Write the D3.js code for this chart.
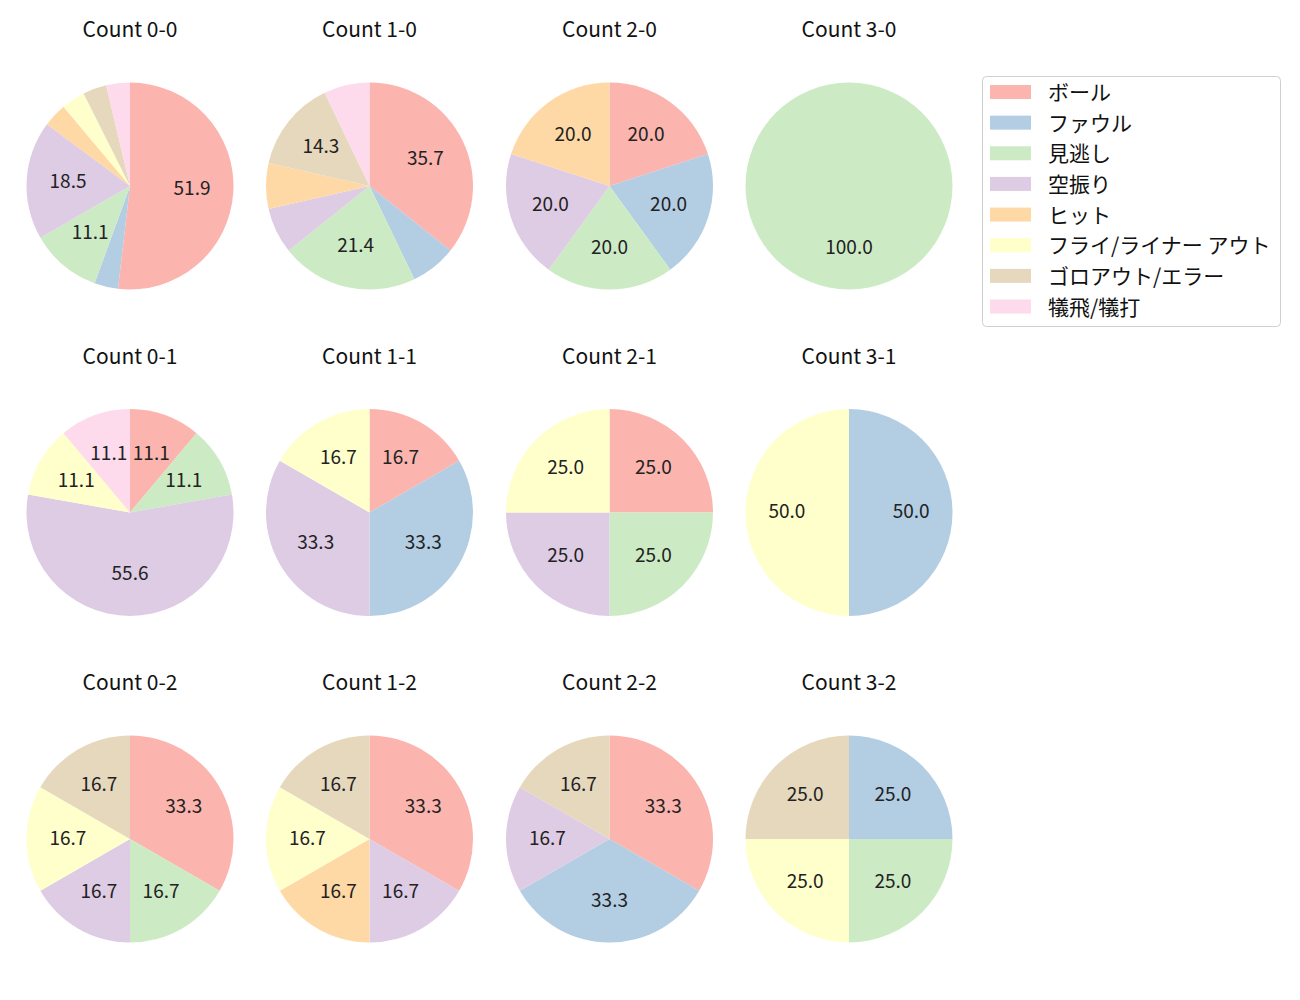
<!DOCTYPE html>
<html><head><meta charset="utf-8">
<script src="https://cdn.jsdelivr.net/npm/d3@7"></script>
<style>body{margin:0;background:#fff;} text{font-family:"Noto Sans CJK JP","Noto Sans",sans-serif;}</style>
</head><body>
<svg id="c" width="1300" height="1000"></svg>
<script>
const categories = ["ボール","ファウル","見逃し","空振り","ヒット","フライ/ライナー アウト","ゴロアウト/エラー","犠飛/犠打"];
const colors = ["#fbb4ae","#b3cde3","#ccebc5","#decbe4","#fed9a6","#ffffcc","#e5d8bd","#fddaec"];
const titles = ["Count 0-0","Count 1-0","Count 2-0","Count 3-0",
                "Count 0-1","Count 1-1","Count 2-1","Count 3-1",
                "Count 0-2","Count 1-2","Count 2-2","Count 3-2"];
const counts00 = [14,1,3,5,1,1,1,1];
const counts10 = [5,1,3,1,1,0,2,1];
const counts20 = [1,1,1,1,1,0,0,0];
const counts30 = [0,0,1,0,0,0,0,0];
const counts01 = [1,0,1,5,0,1,0,1];
const counts11 = [1,2,0,2,0,1,0,0];
const counts21 = [1,0,1,1,0,1,0,0];
const counts31 = [0,1,0,0,0,1,0,0];
const counts02 = [2,0,1,1,0,1,1,0];
const counts12 = [2,0,0,1,1,1,1,0];
const counts22 = [2,2,0,1,0,0,1,0];
const counts32 = [0,1,1,0,0,1,1,0];
const allCounts = [counts00,counts10,counts20,counts30,counts01,counts11,counts21,counts31,counts02,counts12,counts22,counts32];

const svg = d3.select("#c");
const colX = d3.scaleOrdinal().domain([0,1,2,3]).range([130,369.5,609.5,849]);
const rowY = d3.scaleOrdinal().domain([0,1,2]).range([186,512.5,839]);
const R = 103.5;
const color = d3.scaleOrdinal().domain(categories).range(colors);
const pie = d3.pie().sort(null).startAngle(0).endAngle(2*Math.PI).value(d=>d.v);
const arc = d3.arc().innerRadius(0).outerRadius(R);
const labelArc = d3.arc().innerRadius(R*0.6).outerRadius(R*0.6);

allCounts.forEach((cnt,i)=>{
  const col=i%4,row=Math.floor(i/4);
  const cx=colX(col), cy=rowY(row);
  const g=svg.append("g").attr("transform",`translate(${cx},${cy})`);
  const data=categories.map((c,k)=>({c,v:cnt[k]})).filter(d=>d.v>0);
  const total=d3.sum(data,d=>d.v);
  const arcs=pie(data);
  g.selectAll("path").data(arcs).enter().append("path")
    .attr("d",arc).attr("fill",d=>color(d.data.c));
  g.selectAll("text.l").data(arcs.filter(a=>a.data.v/total*100>10)).enter().append("text")
    .attr("class","l")
    .attr("transform",d=>{const p=labelArc.centroid(d);return `translate(${p[0]},${p[1]-3})`;})
    .attr("text-anchor","middle").attr("dominant-baseline","central")
    .attr("font-size",19).attr("fill","#222")
    .text(d=>(d.data.v/total*100).toFixed(1));
  svg.append("text").attr("x",cx).attr("y",rowY(row)-158).attr("text-anchor","middle")
    .attr("dominant-baseline","central").attr("font-size",21).attr("fill","#111").text(titles[i]);
});

// legend
const lg=svg.append("g");
lg.append("rect").attr("x",982.5).attr("y",76.5).attr("width",298).attr("height",250).attr("rx",4)
  .attr("fill","#fff").attr("stroke","#d0d0d0");
const ly=d3.scaleLinear().domain([0,7]).range([92,306.5]);
categories.forEach((c,k)=>{
  lg.append("rect").attr("x",990).attr("y",ly(k)-7).attr("width",41).attr("height",14).attr("fill",colors[k]);
  lg.append("text").attr("x",1048).attr("y",ly(k)-1).attr("dominant-baseline","central")
    .attr("font-size",21).attr("fill","#111").text(c);
});
</script>
</body></html>
